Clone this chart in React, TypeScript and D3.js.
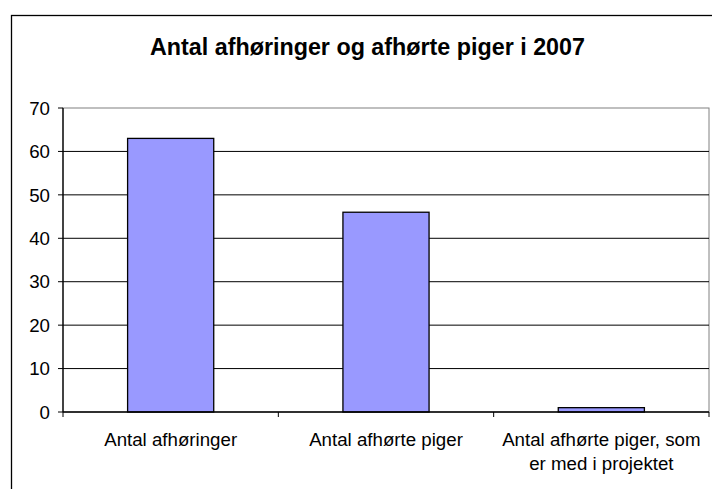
import React from "react";
import * as d3 from "d3";

const title = "Antal afhøringer og afhørte piger i 2007";
const categories = [
  ["Antal afhøringer"],
  ["Antal afhørte piger"],
  ["Antal afhørte piger, som", "er med i projektet"],
];
const values = [63, 46, 1];
const yTicks = [0, 10, 20, 30, 40, 50, 60, 70];

const W = 712;
const H = 489;
const plot = { left: 63, top: 108, right: 709, bottom: 412 };

export default function App() {
  const x = d3
    .scaleBand<number>()
    .domain(d3.range(categories.length))
    .range([plot.left, plot.right])
    .paddingInner(0)
    .paddingOuter(0);
  const bw = x.bandwidth() / 2.5;
  const y = d3.scaleLinear().domain([0, 70]).range([plot.bottom, plot.top]);
  const font = "'Liberation Sans', Arial, sans-serif";
  const boundaries = d3.range(categories.length + 1).map((i) => plot.left + i * x.bandwidth());

  return (
    <svg
      width={W}
      height={H}
      style={{ position: "absolute", left: 0, top: 0, display: "block", background: "#fff" }}
      fontFamily={font}
    >
      <rect x={11.5} y={15.5} width={W + 10} height={H + 10} fill="#fff" stroke="#000" strokeWidth={1.3} />
      <text x={367.5} y={55} textAnchor="middle" fontSize={23.3} fontWeight="bold" fill="#000">
        {title}
      </text>
      {/* plot area border */}
      <rect
        x={plot.left}
        y={plot.top}
        width={plot.right - plot.left}
        height={plot.bottom - plot.top}
        fill="none"
        stroke="#808080"
        strokeWidth={1}
      />
      {/* gridlines */}
      {yTicks
        .filter((t) => t > 0 && t < 70)
        .map((t) => (
          <line key={t} x1={plot.left} x2={plot.right} y1={y(t)} y2={y(t)} stroke="#000" strokeWidth={1} />
        ))}
      {/* bars */}
      {values.map((v, i) => {
        const cx = (x(i) as number) + x.bandwidth() / 2;
        return (
          <rect
            key={i}
            x={cx - bw / 2}
            y={y(v)}
            width={bw}
            height={y(0) - y(v)}
            fill="#9999FF"
            stroke="#000"
            strokeWidth={1.3}
          />
        );
      })}
      {/* y axis */}
      <line x1={plot.left} x2={plot.left} y1={plot.top} y2={plot.bottom} stroke="#000" strokeWidth={1.3} />
      {yTicks.map((t) => (
        <g key={t}>
          <line x1={plot.left - 5} x2={plot.left} y1={y(t)} y2={y(t)} stroke="#000" strokeWidth={1} />
          <text x={50} y={y(t)} dy="0.36em" textAnchor="end" fontSize={18.7} fill="#000">
            {t}
          </text>
        </g>
      ))}
      {/* x axis */}
      <line x1={plot.left} x2={plot.right} y1={plot.bottom} y2={plot.bottom} stroke="#000" strokeWidth={1.3} />
      {boundaries.map((bx, i) => (
        <line key={i} x1={bx} x2={bx} y1={plot.bottom} y2={plot.bottom + 5} stroke="#000" strokeWidth={1} />
      ))}
      {categories.map((lines, i) => {
        const cx = (x(i) as number) + x.bandwidth() / 2;
        return (
          <text key={i} x={cx} y={446} textAnchor="middle" fontSize={18.7} fill="#000">
            {lines.map((l, j) => (
              <tspan key={j} x={cx} dy={j === 0 ? 0 : 24}>
                {l}
              </tspan>
            ))}
          </text>
        );
      })}
    </svg>
  );
}
